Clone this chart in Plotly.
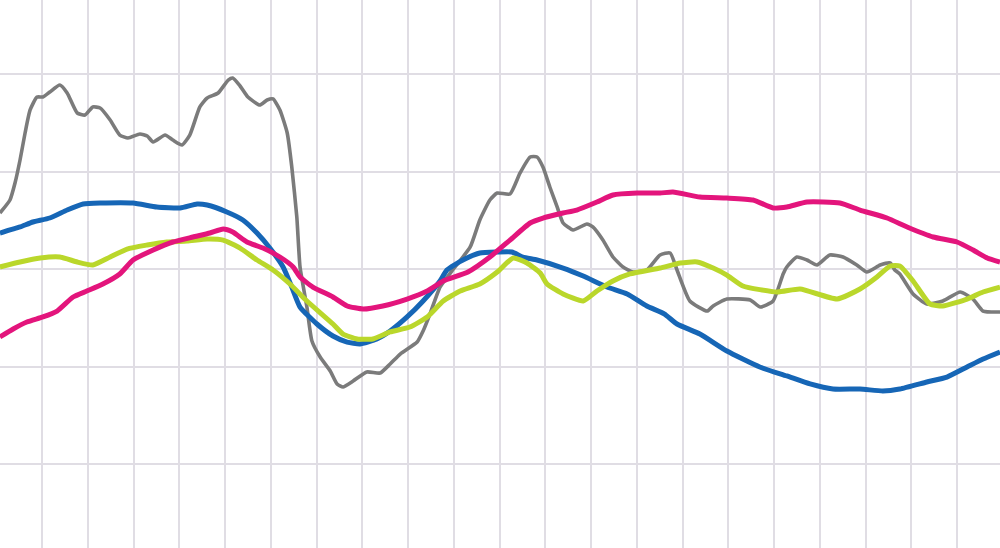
import plotly.graph_objects as go

# x in grid units (one vertical gridline per unit), y in value units (gridline every 10)
gray_x = [-0.92, -0.70, -0.59, -0.48, -0.37, -0.26, -0.11, 0.02, 0.17, 0.39, 0.55, 0.77, 0.94, 1.11, 1.27,
          1.49, 1.70, 1.88, 2.14, 2.30, 2.43, 2.69, 2.86, 3.06, 3.23, 3.45, 3.61, 3.85, 4.07, 4.17, 4.33,
          4.50, 4.76, 4.92, 5.05, 5.20, 5.36, 5.46, 5.57, 5.64, 5.79, 5.90, 6.08, 6.30, 6.45, 6.58, 6.80,
          7.10, 7.39, 7.61, 7.83, 8.20, 8.33, 8.48, 8.70, 8.96, 9.36, 9.57, 9.79, 9.95, 10.23, 10.45, 10.67,
          10.82, 10.95, 11.10, 11.26, 11.39, 11.61, 11.91, 12.04, 12.26, 12.48, 12.70, 12.92, 13.22, 13.51,
          13.73, 13.88, 14.16, 14.54, 14.67, 14.97, 15.48, 15.70, 15.98, 16.20, 16.28, 16.50, 16.72, 16.94,
          17.22, 17.51, 17.81, 18.03, 18.32, 18.54, 18.64, 18.75, 19.04, 19.34, 19.69, 20.07, 20.35, 20.57,
          20.94]
gray_y = [5.74, 7.08, 8.82, 11.18, 13.95, 16.31, 17.64, 17.64, 18.15, 18.87, 18.05, 16.0, 15.79, 16.62, 16.51,
          15.28, 13.74, 13.44, 13.85, 13.64, 13.03, 13.74, 13.23, 12.72, 13.74, 16.62, 17.54, 18.05, 19.38,
          19.59, 18.77, 17.64, 16.82, 17.33, 17.44, 16.31, 13.95, 10.46, 5.33, 0.21, -3.90, -7.38, -9.03,
          -10.46, -11.79, -12.10, -11.49, -10.56, -10.67, -9.74, -8.72, -7.49, -6.36, -4.62, -1.85, -0.20,
          2.26, 5.03, 7.08, 7.79, 7.69, 9.85, 11.49, 11.49, 10.46, 8.41, 6.36, 4.72, 4.0, 4.62, 4.31, 2.97,
          1.23, 0.21, -0.31, -0.10, 1.44, 1.64, -0.10, -3.28, -4.31, -3.79, -3.08, -3.18, -3.90, -3.28, -0.51,
          0.21, 1.23, 0.92, 0.41, 1.44, 1.23, 0.41, -0.31, 0.41, 0.62, -0.10, -0.51, -2.56, -3.59, -3.28,
          -2.36, -3.08, -4.31, -4.41]

blue_x = [-0.92, -0.48, -0.20, 0.17, 0.55, 0.90, 1.27, 1.99, 2.51, 3.02, 3.39, 3.61, 4.04, 4.39, 4.70, 4.98,
          5.27, 5.46, 5.64, 6.01, 6.36, 6.67, 6.95, 7.32, 7.61, 7.98, 8.33, 8.70, 8.85, 9.20, 9.57, 9.95,
          10.27, 10.51, 10.82, 11.39, 11.83, 12.35, 12.79, 13.22, 13.60, 13.88, 14.38, 14.97, 15.69, 16.28,
          16.79, 17.29, 17.88, 18.38, 18.75, 19.34, 19.78, 20.22, 20.57, 20.94]
blue_y = [3.69, 4.31, 4.82, 5.23, 6.05, 6.67, 6.77, 6.77, 6.36, 6.26, 6.67, 6.56, 5.85, 5.03, 3.69, 2.15,
          0.21, -1.85, -3.90, -5.64, -6.87, -7.49, -7.69, -7.18, -6.36, -4.92, -3.28, -1.23, -0.10, 0.92,
          1.64, 1.74, 1.74, 1.23, 0.92, 0.10, -0.72, -1.85, -2.56, -3.79, -4.60, -5.64, -6.67, -8.41, -10.05,
          -10.97, -11.79, -12.31, -12.31, -12.51, -12.31, -11.59, -11.08, -10.05, -9.23, -8.51]

pink_x = [-0.92, -0.63, -0.33, 0.02, 0.33, 0.68, 0.98, 1.33, 1.70, 1.99, 2.43, 2.86, 3.30, 3.67, 3.96, 4.17,
          4.48, 4.83, 5.20, 5.49, 5.64, 5.92, 6.36, 6.67, 7.02, 7.45, 7.98, 8.42, 8.77, 9.31, 9.79, 10.23,
          10.67, 10.95, 11.39, 11.69, 12.13, 12.48, 13.01, 13.51, 13.79, 14.38, 14.97, 15.54, 15.98, 16.28,
          16.72, 17.44, 17.88, 18.47, 18.91, 19.48, 20.0, 20.35, 20.66, 20.94]
pink_y = [-6.97, -6.15, -5.44, -4.92, -4.31, -2.87, -2.26, -1.54, -0.51, 0.92, 1.95, 2.77, 3.28, 3.69, 4.10,
          3.79, 2.77, 2.15, 1.23, 0.21, -0.82, -1.85, -2.87, -3.79, -4.10, -3.79, -3.08, -2.26, -1.23, -0.31,
          1.23, 2.97, 4.72, 5.23, 5.74, 6.05, 6.87, 7.59, 7.79, 7.79, 7.90, 7.38, 7.28, 7.08, 6.26, 6.36, 6.87,
          6.77, 6.05, 5.23, 4.31, 3.28, 2.77, 1.95, 1.13, 0.72]

green_x = [-0.92, -0.48, -0.04, 0.39, 0.77, 1.11, 1.49, 1.86, 2.30, 2.73, 3.17, 3.61, 3.96, 4.33, 4.70, 5.05,
           5.42, 5.79, 6.36, 6.58, 6.89, 7.23, 7.61, 8.04, 8.42, 8.77, 9.14, 9.57, 9.95, 10.30, 10.60, 10.89,
           11.04, 11.39, 11.83, 12.13, 12.48, 12.85, 13.51, 13.95, 14.32, 14.67, 14.97, 15.32, 16.07, 16.57,
           17.38, 17.88, 18.25, 18.54, 18.75, 19.04, 19.41, 19.69, 20.22, 20.57, 20.94]
green_y = [0.21, 0.72, 1.13, 1.23, 0.72, 0.41, 1.23, 2.05, 2.46, 2.77, 2.87, 3.08, 2.97, 2.15, 0.92, -0.10,
           -1.54, -3.28, -5.64, -6.67, -7.18, -7.18, -6.46, -5.95, -4.92, -3.28, -2.26, -1.54, -0.31, 1.13,
           0.62, -0.41, -1.54, -2.56, -3.28, -2.26, -1.23, -0.51, 0.10, 0.62, 0.72, 0.10, -0.62, -1.74, -2.36,
           -2.05, -3.08, -2.05, -0.82, 0.31, 0.31, -1.23, -3.59, -3.79, -3.08, -2.36, -1.85]

series = [
    (gray_x, gray_y, "#7b7b7b", 3.6),
    (blue_x, blue_y, "#1666b6", 5.0),
    (green_x, green_y, "#bad72b", 5.0),
    (pink_x, pink_y, "#e3157c", 5.0),
]

fig = go.Figure()
for xs, ys, col, w in series:
    fig.add_trace(go.Scatter(x=xs, y=ys, mode="lines", line=dict(color=col, width=w, shape="spline", smoothing=0.5),
                             hoverinfo="skip", showlegend=False))

fig.update_layout(
    width=1000, height=548,
    margin=dict(l=0, r=0, t=0, b=0),
    paper_bgcolor="white", plot_bgcolor="white",
    showlegend=False,
)
fig.update_xaxes(range=[-0.918, 20.940], tick0=0, dtick=1, showgrid=True, gridcolor="#e0dde4", gridwidth=2,
                 showticklabels=False, zeroline=False, showline=False, ticks="")
fig.update_yaxes(range=[-28.615, 27.590], tick0=0, dtick=10, showgrid=True, gridcolor="#e0dde4", gridwidth=2,
                 showticklabels=False, zeroline=False, showline=False, ticks="")

fig.write_html("out.html", config={"displayModeBar": False},
               post_script="document.body.style.margin='0';document.body.style.overflow='hidden';")
